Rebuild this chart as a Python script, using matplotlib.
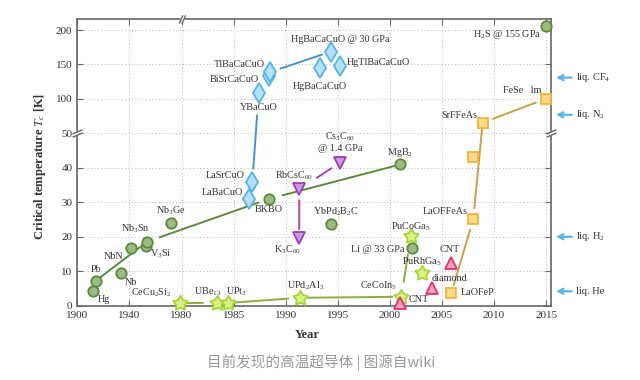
import numpy as np
import matplotlib
matplotlib.use('Agg')
import matplotlib.pyplot as plt
from matplotlib.path import Path
from matplotlib.transforms import blended_transform_factory as blend

plt.rcParams['font.family'] = ['Liberation Serif', 'DejaVu Serif']
plt.rcParams['mathtext.fontset'] = 'custom'
plt.rcParams['mathtext.rm'] = 'Liberation Serif'
plt.rcParams['mathtext.it'] = 'Liberation Serif:italic'
plt.rcParams['mathtext.bf'] = 'Liberation Serif:bold'

TXT = '#333333'

# ---------------- data ----------------
conv_names = ['Hg', 'Pb', 'Nb', 'NbN', 'V$_3$Si', 'Nb$_3$Sn', 'Nb$_3$Ge', 'BKBO',
              'YbPd$_2$B$_2$C', 'MgB$_2$', 'Li @ 33 GPa', 'H$_2$S @ 155 GPa']
conv_year = [1911.8, 1914.1, 1933.3, 1941.2, 1952.5, 1953.7, 1972.0, 1988.4,
             1994.3, 2001.0, 2002.1, 2015.0]
conv_tc = [4.3, 7.2, 9.6, 16.7, 17.4, 18.6, 24.0, 31.0, 23.7, 41.0, 16.7, 206.0]

cup_names = ['LaBaCuO', 'LaSrCuO', 'YBaCuO', 'BiSrCaCuO', 'TlBaCaCuO',
             'HgBaCaCuO', 'HgBaCaCuO @ 30 GPa', 'HgTlBaCaCuO']
cup_year = [1986.5, 1986.8, 1987.4, 1988.4, 1988.5, 1993.3, 1994.3, 1995.2]
cup_tc = [31.0, 36.0, 108.0, 133.0, 139.0, 144.5, 168.5, 147.5]

ful_names = ['K$_3$C$_{60}$', 'RbCsC$_{60}$', 'Cs$_3$C$_{60}$\n@ 1.4 GPa']
ful_year = [1991.3, 1991.3, 1995.2]
ful_tc = [19.6, 33.8, 41.5]

hf_names = ['CeCu$_2$Si$_2$', 'UBe$_{13}$', 'UPt$_3$', 'UPd$_2$Al$_3$',
            'CeCoIn$_5$', 'PuCoGa$_5$', 'PuRhGa$_5$']
hf_year = [1978.5, 1983.4, 1984.5, 1991.4, 2001.1, 2002.0, 2003.05]
hf_tc = [0.7, 0.9, 0.8, 2.3, 2.6, 20.1, 9.4]

car_names = ['CNT', 'diamond', 'CNT']
car_year = [2001.0, 2004.0, 2005.9]
car_tc = [0.7, 5.1, 12.5]

fe_names = ['LaOFeP', 'LaOFFeAs', '', 'SrFFeAs', 'FeSe   lm']
fe_year = [2005.9, 2008.0, 2008.0, 2008.9, 2015.0]
fe_tc = [3.8, 25.1, 43.1, 65.5, 100.5]

liq_names = ['liq. CF$_4$', 'liq. N$_2$', 'liq. H$_2$', 'liq. He']
liq_tc = [131.0, 77.0, 20.0, 4.2]

x_ticks = [1900, 1940, 1980, 1985, 1990, 1995, 2000, 2005, 2010, 2015]
y_ticks = [0, 10, 20, 30, 40, 50, 100, 150, 200]

# ---------------- layout (label offsets in pixels, alignment) ----------------
conv_lab = [(11, -9, 'center'), (0, 11, 'center'), (10, -10, 'center'), (-17, -8, 'center'),
            (15, -8, 'center'), (-12, 13, 'center'), (0, 12.5, 'center'), (0, -10.5, 'center'),
            (5, 12, 'center'), (0, 12, 'center'), (-7, -1, 'right'), (-5, -9, 'right')]
cup_lab = [(-6, 6, 'right'), (-8, 6, 'right'), (0, -14, 'center'), (-10, -3, 'right'),
           (-5, 8, 'right'), (0, -18, 'center'), (10, 12, 'center'), (7, 4, 'left')]
ful_lab = [(-12, -12, 'center'), (-5, 13, 'center'), (0, 21, 'center')]
hf_lab = [(-8, 11, 'right'), (-9, 11, 'center'), (8, 11, 'center'), (5, 12, 'center'),
          (-4, 11, 'right'), (0, 10, 'center'), (0, 11.6, 'center')]
car_lab = [(8, 3.3, 'left'), (0, 9.3, 'left'), (-2, 12.7, 'center')]
fe_lab = [(9, 0, 'left'), (-6, 7.6, 'right'), (0, 0, 'center'), (-5, 7.7, 'right'), (-5, 8.3, 'right')]

# trend segments: (from index, to index, shrink start px, shrink end px)
conv_seg = [(1, 5, 4, 9), (5, 7, 13, 11), (7, 9, 14, 4)]
cup_seg = [(1, 2, 13, 22), (4, 6, 11, 9)]
ful_seg = [(0, 1, 9, 11), (1, 2, 21, 10)]
hf_seg = [(0, 1, 6, 14), (2, 3, 5, 12), (3, 4, 6, 9), (4, 5, 15, 18)]
fe_seg = [(0, 1, 8, 11), (1, 3, 11, 4), (3, 4, 11, 11)]


# ---------------- scales ----------------
def fx(x):
    x = np.asarray(x, float)
    return np.where(x < 1980, (x - 1900) / 8.0, 10 + (x - 1980))


def ifx(u):
    u = np.asarray(u, float)
    return np.where(u < 10, 1900 + 8 * u, 1980 + (u - 10))


def fy(y):
    y = np.asarray(y, float)
    return np.where(y <= 50, y, 50 + (y - 50) / 5.0)


def ify(v):
    v = np.asarray(v, float)
    return np.where(v <= 50, v, 50 + 5 * (v - 50))


fig = plt.figure(figsize=(6.4, 3.8), dpi=100)
ax = fig.add_axes([0.1208, 0.1955, 0.7400, 0.7545])
ax.set_xscale('function', functions=(fx, ifx))
ax.set_yscale('function', functions=(fy, ify))
ax.set_xlim(1900, 2015.45)
ax.set_ylim(0, 216)
ax.set_xticks(x_ticks)
ax.set_xticklabels([str(t) for t in x_ticks])
ax.set_yticks(y_ticks)
ax.set_yticklabels([str(t) for t in y_ticks])
ax.minorticks_off()
ax.tick_params(direction='in', top=True, right=True, length=4, width=0.8,
               color='#666666', labelsize=8, labelcolor=TXT)
ax.grid(True, linestyle=(0, (1, 2.5)), color='#b5b5b5', lw=0.7)
ax.set_axisbelow(True)
for s in ax.spines.values():
    s.set_color('#666666')
    s.set_linewidth(1.2)


def star_path(ratio=0.55):
    verts = []
    for k in range(10):
        ang = np.pi / 2 + k * np.pi / 5
        r = 1.0 if k % 2 == 0 else ratio
        verts.append((r * np.cos(ang), r * np.sin(ang)))
    verts.append(verts[0])
    return Path(verts, closed=True)


families = [
    (conv_year, conv_tc, conv_names, conv_lab, conv_seg, 'o', 7.5, '#9cbb84', '#5b8c3c', '#5f8a3d'),
    (cup_year, cup_tc, cup_names, cup_lab, cup_seg, 'd', 10.5, '#b5e0f7', '#55b4e6', '#4a93c9'),
    (ful_year, ful_tc, ful_names, ful_lab, ful_seg, 'v', 9, '#cf98dc', '#9c3fb4', '#a445b2'),
    (hf_year, hf_tc, hf_names, hf_lab, hf_seg, star_path(), 11, '#dbf283', '#a5d43b', '#86b03a'),
    (car_year, car_tc, car_names, car_lab, [], '^', 9, '#f7a3bd', '#e4336f', '#e4336f'),
    (fe_year, fe_tc, fe_names, fe_lab, fe_seg, 's', 6.5, '#fdd98c', '#f4b33a', '#c8a04c'),
]

for xs, ys, names, labs, segs, mk, ms, fc, ec, lc in families:
    for i, j, sa, sb in segs:
        ax.annotate('', xy=(xs[j], ys[j]), xytext=(xs[i], ys[i]),
                    arrowprops=dict(arrowstyle='-', color=lc, lw=1.4,
                                    shrinkA=sa * 0.72, shrinkB=sb * 0.72),
                    annotation_clip=False, zorder=3)
    ax.plot(xs, ys, ls='none', marker=mk, ms=ms, mfc=fc, mec=ec, mew=1.3,
            clip_on=False, zorder=5)
    for name, x, y, (dx, dy, ha) in zip(names, xs, ys, labs):
        if name:
            ax.annotate(name, (x, y), xytext=(dx, dy), textcoords='offset pixels',
                        ha=ha, va='center', fontsize=7.3, color=TXT,
                        linespacing=1.1, annotation_clip=False, zorder=6)

# liquid reference arrows
tr = blend(ax.transAxes, ax.transData)
for name, t in zip(liq_names, liq_tc):
    ax.annotate('', xy=(1.0106, t), xycoords=tr, xytext=(1.044, t), textcoords=tr,
                arrowprops=dict(arrowstyle='->', color='#5ab4e8', lw=1.6,
                                shrinkA=0, shrinkB=0, mutation_scale=9),
                annotation_clip=False)
    ax.text(1.054, t, name, transform=tr, ha='left', va='center', fontsize=7.5, color=TXT)

# axis-break marks
top_break = Path([(-2.7, -3.5), (0.4, 3.5), (-0.4, -3.5), (2.7, 3.5)],
                 [Path.MOVETO, Path.LINETO, Path.MOVETO, Path.LINETO])
side_break = Path([(-3.5, -2.7), (3.5, 0.4), (-3.5, -0.4), (3.5, 2.7)],
                  [Path.MOVETO, Path.LINETO, Path.MOVETO, Path.LINETO])
trx = blend(ax.transData, ax.transAxes)
ax.plot([1980], [1.0], transform=trx, marker='s', ms=2.5, mfc='white', mec='none',
        clip_on=False, zorder=7)
ax.plot([1980], [1.0], transform=trx, marker=top_break, ms=6, mfc='none', mec='#666666',
        mew=1.0, clip_on=False, zorder=8)
for xa in (0.0, 1.0):
    ax.plot([xa], [50], transform=tr, marker='s', ms=2.5, mfc='white', mec='none',
            clip_on=False, zorder=7)
    ax.plot([xa], [50], transform=tr, marker=side_break, ms=7, mfc='none', mec='#666666',
            mew=1.0, clip_on=False, zorder=8)

fig.text(40 / 640, 1 - 166.5 / 380, 'Critical temperature $T_c$ [K]', rotation=90,
         ha='center', va='center', fontsize=9, fontweight='bold', color=TXT)
fig.text(307 / 640, 1 - 335 / 380, 'Year', ha='center', va='center',
         fontsize=9, fontweight='bold', color=TXT)
fig.text(321 / 640, 1 - 363 / 380, '目前发现的高温超导体 | 图源自wiki', ha='center', va='center',
         fontsize=10.5, color='#999999', family=['Noto Sans CJK SC', 'DejaVu Sans'])

fig.savefig('out.png', dpi=100)
